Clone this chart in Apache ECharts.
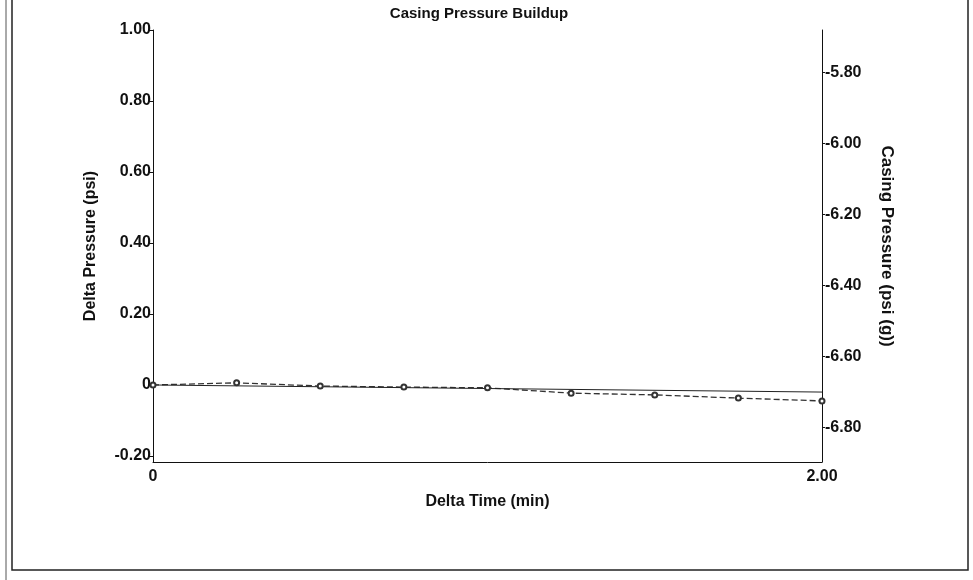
<!DOCTYPE html>
<html>
<head>
<meta charset="utf-8">
<script src="https://cdn.jsdelivr.net/npm/echarts@6/dist/echarts.min.js"></script>
<style>html,body{margin:0;padding:0;background:#fff}#c{width:973px;height:580px}</style>
</head>
<body>
<div id="c"></div>
<script>
var timeMin = [0, 0.25, 0.5, 0.75, 1.0, 1.25, 1.5, 1.75, 2.0];
var deltaPressure = [0, 0.006, -0.003, -0.006, -0.008, -0.023, -0.028, -0.037, -0.045];
var casingTime = [0, 2.0];
var casingPressure = [-6.68, -6.70];
var leftTicks = [-0.2, 0, 0.2, 0.4, 0.6, 0.8, 1.0];
var rightTicks = [-6.8, -6.6, -6.4, -6.2, -6.0, -5.8];
var xTicks = [0, 2.0];

var font = 'Liberation Sans, Arial, sans-serif';
var lbl = {color: '#111', fontFamily: font, fontSize: 16, fontWeight: 'bold'};

var chart = echarts.init(document.getElementById('c'));
chart.setOption({
  backgroundColor: '#fff',
  animation: false,
  title: {text: 'Casing Pressure Buildup', left: 474, textAlign: 'center', top: 1,
    textStyle: {color: '#111', fontFamily: font, fontSize: 15, fontWeight: 'bold'}},
  grid: {left: 153, right: 151, top: 30, bottom: 118},
  xAxis: {
    type: 'value', min: 0, max: 2,
    name: 'Delta Time (min)', nameLocation: 'middle', nameGap: 32,
    nameTextStyle: {color: '#111', fontFamily: font, fontSize: 16, fontWeight: 'bold'},
    axisLine: {show: true, onZero: false, lineStyle: {color: '#111', width: 1}},
    axisTick: {show: false},
    splitLine: {show: false},
    axisLabel: Object.assign({customValues: xTicks, margin: 7,
      formatter: function (v) { return v === 0 ? '0' : v.toFixed(2); }}, lbl)
  },
  yAxis: [{
    type: 'value', min: -0.217, max: 1.0,
    name: 'Delta Pressure (psi)', nameLocation: 'middle', nameGap: 54,
    nameTextStyle: {color: '#111', fontFamily: font, fontSize: 16, fontWeight: 'bold'},
    axisLine: {show: true, onZero: false, lineStyle: {color: '#111', width: 1}},
    axisTick: {show: true, length: 3, customValues: leftTicks, lineStyle: {color: '#111'}},
    splitLine: {show: false},
    axisLabel: Object.assign({customValues: leftTicks, margin: 2,
      formatter: function (v) { return Math.abs(v) < 1e-9 ? '0' : v.toFixed(2); }}, lbl)
  }, {
    type: 'value', min: -6.897, max: -5.68, position: 'right',
    name: 'Casing Pressure (psi (g))', nameLocation: 'middle', nameGap: 56, nameRotate: -90,
    nameTextStyle: {color: '#111', fontFamily: font, fontSize: 17, fontWeight: 'bold'},
    axisLine: {show: true, onZero: false, lineStyle: {color: '#111', width: 1}},
    axisTick: {show: true, length: 3, customValues: rightTicks, lineStyle: {color: '#111'}},
    splitLine: {show: false},
    axisLabel: Object.assign({customValues: rightTicks, margin: 3,
      formatter: function (v) { return v.toFixed(2); }}, lbl)
  }],
  series: [{
    type: 'line', yAxisIndex: 0,
    data: timeMin.map(function (t, i) { return [t, deltaPressure[i]]; }),
    symbol: 'emptyCircle', symbolSize: 5, showSymbol: true,
    lineStyle: {color: '#333', width: 1.3, type: [6, 3]},
    itemStyle: {color: '#333', borderWidth: 1}
  }, {
    type: 'line', yAxisIndex: 1,
    data: casingTime.map(function (t, i) { return [t, casingPressure[i]]; }),
    symbol: 'none',
    lineStyle: {color: '#222', width: 1}
  }],
  graphic: [
    {type: 'rect', shape: {x: 12, y: -5, width: 956, height: 575}, style: {fill: null, stroke: '#222', lineWidth: 1.5}},
    {type: 'line', shape: {x1: 6, y1: 0, x2: 6, y2: 580}, style: {stroke: '#555', lineWidth: 1}}
  ]
});
</script>
</body>
</html>
